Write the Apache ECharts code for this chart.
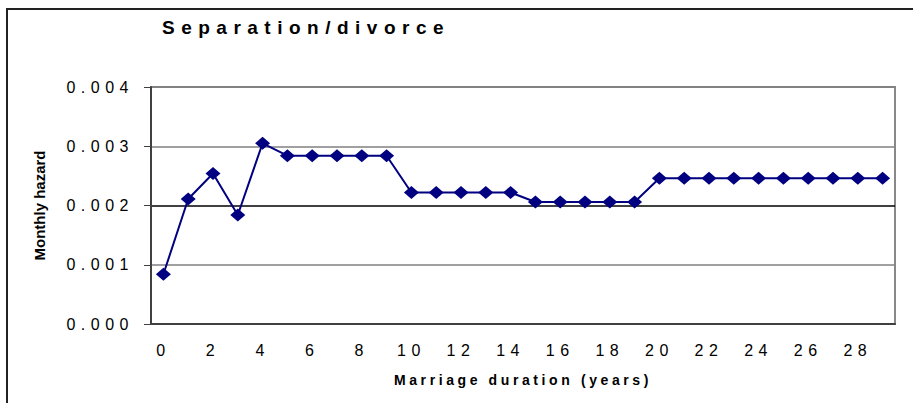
<!DOCTYPE html>
<html>
<head>
<meta charset="utf-8">
<script src="https://cdn.jsdelivr.net/npm/echarts@6/dist/echarts.min.js"></script>
<style>
  html, body { margin: 0; padding: 0; background: #fff; }
  #chart { width: 913px; height: 403px; }
  /* the source chart has wide letter spacing on most texts */
  #chart text[style*="19px"] { letter-spacing: 6.5px; }
  #chart text[style*="16px"] { letter-spacing: 5.5px; }
  #chart text[style*="14px"] { letter-spacing: 3.6px; }
</style>
</head>
<body>
<div id="chart"></div>
<script>
const years = []
for (let i = 0; i <= 29; i++) years.push(String(i))

const hazard = [
  0.00084, 0.00211, 0.00254, 0.00184, 0.00305,
  0.00284, 0.00284, 0.00284, 0.00284, 0.00284,
  0.00222, 0.00222, 0.00222, 0.00222, 0.00222,
  0.00206, 0.00206, 0.00206, 0.00206, 0.00206,
  0.00246, 0.00246, 0.00246, 0.00246, 0.00246,
  0.00246, 0.00246, 0.00246, 0.00246, 0.00246
]

const yTicks = [0, 0.001, 0.002, 0.003, 0.004]

const font = '"Liberation Sans", Arial, sans-serif'

const chart = echarts.init(document.getElementById('chart'), null, { renderer: 'svg' })

chart.setOption({
  animation: false,
  backgroundColor: '#fff',
  title: {
    text: 'Separation/divorce',
    left: 162,
    top: 18,
    padding: 0,
    textStyle: { fontFamily: font, fontSize: 19, fontWeight: 'bold', color: '#000' }
  },
  graphic: [{
    type: 'rect',
    shape: { x: 7, y: 9, width: 1200, height: 1200 },
    style: { fill: 'none', stroke: '#222', lineWidth: 2 },
    silent: true
  }],
  grid: {
    left: 151,
    right: 18,
    top: 87,
    bottom: 79,
    show: true,
    borderColor: '#888',
    borderWidth: 2
  },
  xAxis: {
    type: 'category',
    data: years,
    boundaryGap: true,
    name: 'Marriage duration (years)',
    nameLocation: 'middle',
    nameGap: 49,
    nameTextStyle: { fontFamily: font, fontSize: 14, fontWeight: 'bold', color: '#000' },
    axisLine: { lineStyle: { color: '#404040', width: 2 } },
    axisTick: { interval: 0, length: 6, lineStyle: { color: '#000' } },
    axisLabel: { interval: 1, margin: 18, fontFamily: font, fontSize: 16, color: '#000' }
  },
  yAxis: {
    type: 'value',
    min: yTicks[0],
    max: yTicks[yTicks.length - 1],
    interval: 0.001,
    name: 'Monthly hazard',
    nameLocation: 'middle',
    nameGap: 104,
    nameTextStyle: { fontFamily: font, fontSize: 15, fontWeight: 'bold', color: '#000' },
    axisLine: { show: true, lineStyle: { color: '#404040', width: 2 } },
    axisTick: { show: true, length: 7, lineStyle: { color: '#404040' } },
    axisLabel: {
      margin: 17,
      fontFamily: font,
      fontSize: 16,
      color: '#000',
      formatter: v => v.toFixed(3)
    },
    splitLine: {
      lineStyle: { color: ['#808080', '#808080', '#000', '#808080', '#808080'], width: 1.5 }
    }
  },
  series: [{
    type: 'line',
    data: hazard,
    color: '#000080',
    symbol: 'diamond',
    symbolSize: [15, 13],
    lineStyle: { width: 2, color: '#000080' },
    itemStyle: { color: '#000080' }
  }]
})
</script>
</body>
</html>
